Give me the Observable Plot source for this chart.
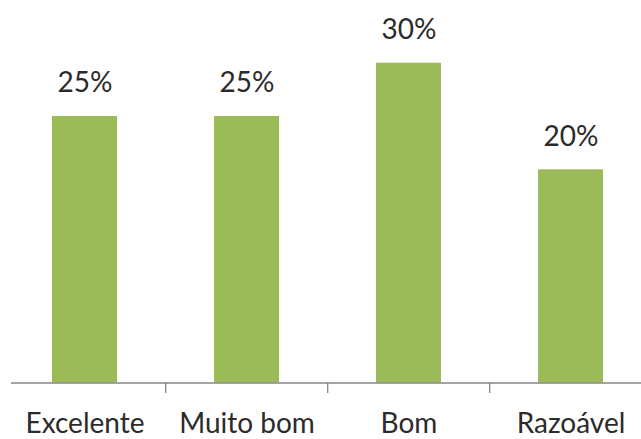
<!DOCTYPE html>
<html>
<head>
<meta charset="utf-8">
<script src="https://cdn.jsdelivr.net/npm/d3@7"></script>
<script src="https://cdn.jsdelivr.net/npm/@observablehq/plot@0.6"></script>
<style>
  html, body { margin: 0; padding: 0; background: #ffffff; }
  #chart svg { display: block; }
</style>
</head>
<body>
<div id="chart"></div>
<script>
const categories = ["Excelente", "Muito bom", "Bom", "Razoável"];
const values = [25, 25, 30, 20];
const valueLabels = ["25%", "25%", "30%", "20%"];

const data = categories.map((c, i) => ({category: c, value: values[i], label: valueLabels[i]}));

const xRange = [2.5, 653];
const step = (xRange[1] - xRange[0]) / categories.length;
const font = "Lato, 'Open Sans', sans-serif";

const chart = Plot.plot({
  width: 641,
  height: 439,
  marginLeft: 11,
  marginRight: 0,
  marginTop: 62.7,
  marginBottom: 56.5,
  style: {fontFamily: font, background: "#ffffff", overflow: "visible"},
  x: {domain: categories, range: xRange, paddingInner: 0.6, paddingOuter: 0.3},
  y: {domain: [0, 30], range: [382.5, 62.7]},
  marks: [
    Plot.barY(data, {x: "category", y: "value", fill: "#9BBB59"}),
    Plot.ruleY([0], {stroke: "#868686", strokeWidth: 1.3}),
    Plot.ruleX(categories.slice(1), {x: d => d, y1: 0, y2: 0, insetBottom: -10.5, dx: -step / 2, stroke: "#868686", strokeWidth: 1.3}),
    Plot.text(data, {x: "category", y: "value", text: "label", dy: -33, lineAnchor: "middle", fontSize: 28, fill: "#2b2b2b", fontFamily: font}),
    Plot.axisX({tickSize: 0, tickPadding: 30, fontSize: 28, color: "#2b2b2b", fontFamily: font, label: null}),
    Plot.axisY({ticks: [], label: null})
  ]
});
document.getElementById("chart").appendChild(chart);
</script>
</body>
</html>
